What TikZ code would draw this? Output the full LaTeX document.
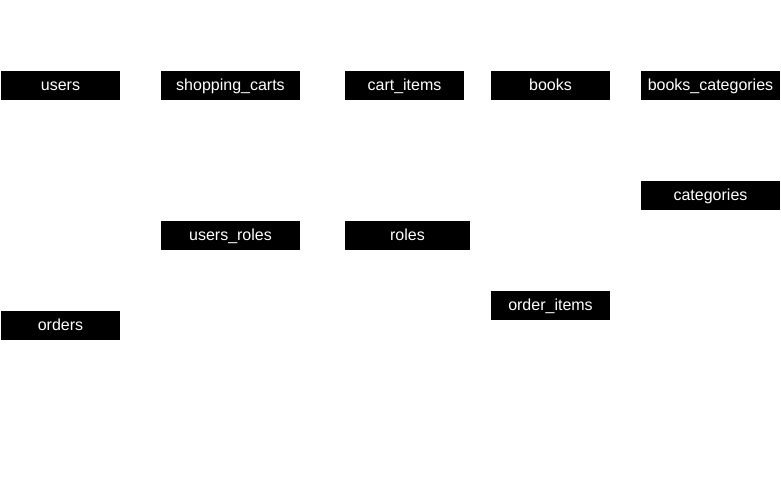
\documentclass[tikz,border=0pt]{standalone}
\usepackage{fontspec}
\setmainfont{Liberation Sans}
\begin{document}
\begin{tikzpicture}[x=1pt,y=-1pt,
  tbl/.style={fill=black,text=white,inner sep=0pt,minimum height=29pt,
    text height=12.5pt,text depth=2pt,
    font=\fontsize{16}{19}\selectfont},
  narrow/.style={minimum width=119pt},
  wide/.style={minimum width=139pt}]
\useasboundingbox (0,0) rectangle (781,481);
\node[tbl,narrow] (users) at (60.5,85.5) {users};
\node[tbl,wide] (shopping) at (230.5,85.5) {shopping\_carts};
\node[tbl,narrow] (cartitems) at (404.5,85.5) {cart\_items};
\node[tbl,narrow] (books) at (550.5,85.5) {books};
\node[tbl,wide] (bookscat) at (710.5,85.5) {books\_categories};
\node[tbl,wide] (categories) at (710.5,195.5) {categories};
\node[tbl,wide] (usersroles) at (230.5,235.5) {users\_roles};
\node[tbl,minimum width=125pt] (roles) at (407.5,235.5) {roles};
\node[tbl,narrow] (orderitems) at (550.5,305.5) {order\_items};
\node[tbl,narrow] (orders) at (60.5,325.5) {orders};
\end{tikzpicture}
\end{document}
